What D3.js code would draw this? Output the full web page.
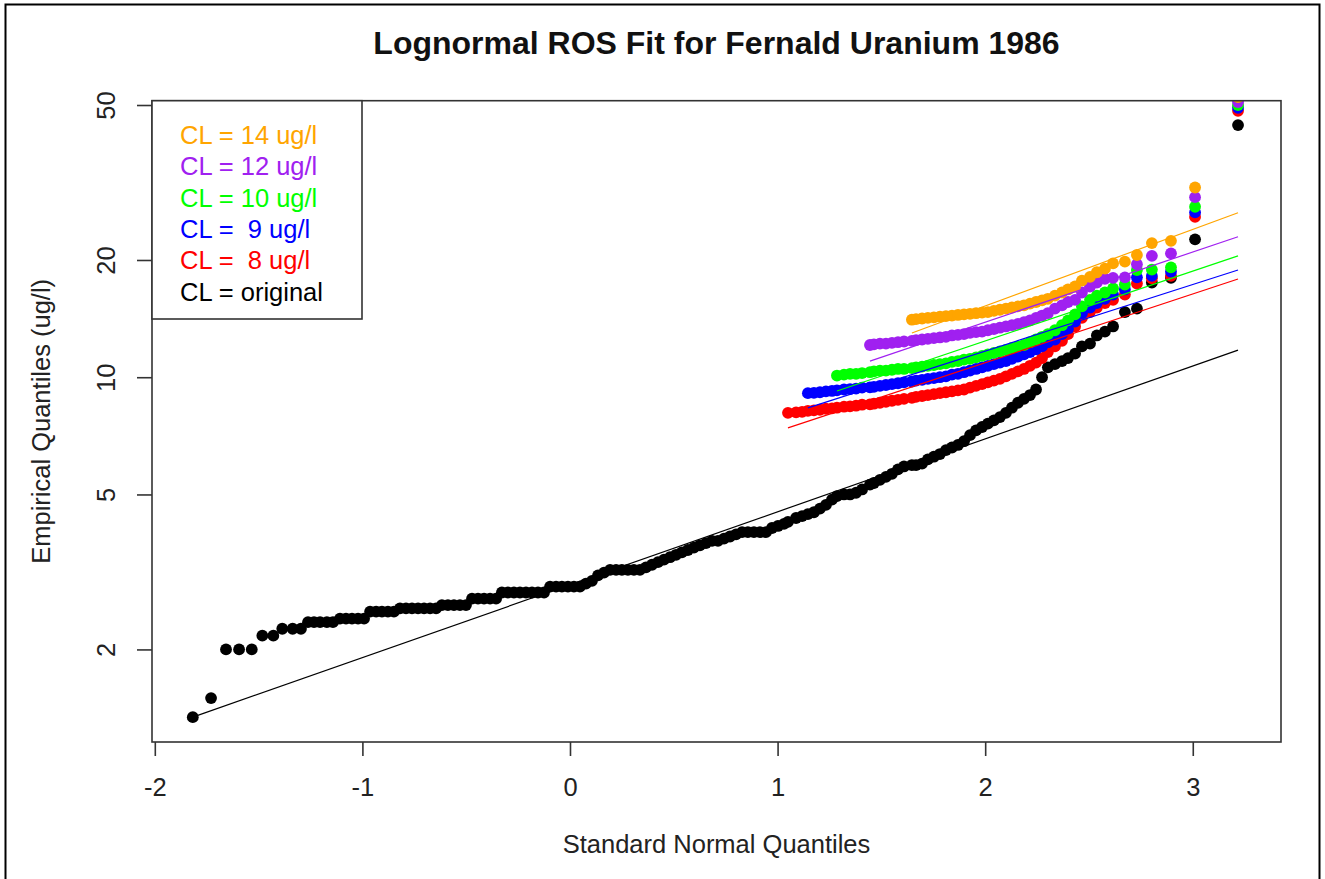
<!DOCTYPE html>
<html><head><meta charset="utf-8">
<script src="https://cdn.jsdelivr.net/npm/d3@7"></script>
<style>
body{margin:0;background:#fff}
svg text{font-family:"Liberation Sans",Arial,Helvetica,sans-serif}
</style>
</head><body>
<svg id="chart" width="1325" height="879"></svg>
<script>
// ---- data (standard normal quantiles shared by all series; CL series use the upper tail) ----
const quantiles = [
-1.817,-1.729,-1.657,-1.594,-1.533,-1.482,-1.429,-1.386,-1.336,-1.296,
-1.262,-1.233,-1.204,-1.171,-1.142,-1.108,-1.079,-1.050,-1.021,-0.992,
-0.963,-0.934,-0.906,-0.877,-0.848,-0.819,-0.790,-0.761,-0.732,-0.703,
-0.674,-0.645,-0.617,-0.588,-0.559,-0.530,-0.501,-0.472,-0.443,-0.414,
-0.385,-0.356,-0.328,-0.299,-0.270,-0.241,-0.212,-0.183,-0.154,-0.125,
-0.096,-0.067,-0.039,-0.010,0.019,0.048,0.077,0.106,0.135,0.164,
0.193,0.222,0.250,0.279,0.308,0.337,0.366,0.395,0.424,0.453,
0.482,0.511,0.539,0.568,0.597,0.626,0.655,0.684,0.713,0.742,
0.771,0.800,0.829,0.857,0.886,0.915,0.944,0.973,1.002,1.031,
1.050,1.089,1.118,1.146,1.175,1.204,1.233,1.262,1.286,1.320,
1.349,1.378,1.407,1.445,1.464,1.493,1.522,1.551,1.580,1.609,
1.647,1.667,1.696,1.724,1.753,1.782,1.811,1.840,1.869,1.898,
1.927,1.956,1.985,2.013,2.042,2.071,2.100,2.129,2.158,2.187,
2.216,2.245,2.274,2.302,2.336,2.370,2.399,2.433,2.466,2.505,
2.538,2.577,2.616,2.673,2.731,2.803,2.895,3.011,3.218];

const originalValues = [
1.34,1.50,2.0,2.0,2.0,2.17,2.17,2.26,2.26,2.26,
2.35,2.35,2.35,2.35,2.35,2.4,2.4,2.4,2.4,2.4,
2.5,2.5,2.5,2.5,2.5,2.55,2.55,2.55,2.55,2.55,
2.55,2.55,2.6,2.6,2.6,2.6,2.6,2.7,2.7,2.7,
2.7,2.7,2.8,2.8,2.8,2.8,2.8,2.8,2.8,2.8,
2.9,2.9,2.9,2.9,2.9,2.9,2.95,3.0,3.1,3.15,
3.2,3.2,3.2,3.2,3.2,3.2,3.25,3.3,3.35,3.4,
3.45,3.5,3.55,3.6,3.65,3.7,3.75,3.8,3.8,3.85,
3.9,3.95,4.0,4.0,4.0,4.0,4.0,4.1,4.15,4.2,
4.25,4.35,4.4,4.45,4.5,4.6,4.7,4.85,4.95,5.0,
5.0,5.05,5.15,5.3,5.35,5.45,5.55,5.65,5.8,5.9,
5.95,5.95,6.0,6.15,6.25,6.35,6.5,6.6,6.7,6.85,
7.1,7.3,7.45,7.6,7.75,7.9,8.1,8.35,8.6,8.8,
9.0,9.3,10.0,10.6,10.8,11.0,11.2,11.5,12.0,12.2,
12.8,13.1,13.5,14.7,15.0,17.5,18.0,22.6,44.4];

const cl8Values = [
8.1,8.12,8.15,8.2,8.22,8.25,8.3,8.32,8.35,8.4,
8.42,8.45,8.5,8.52,8.55,8.6,8.65,8.7,8.75,8.8,
8.85,8.9,8.95,9.0,9.05,9.1,9.15,9.2,9.25,9.3,
9.4,9.5,9.6,9.7,9.8,9.9,10.05,10.2,10.35,10.5,
10.7,10.9,11.2,11.6,12.0,12.4,12.9,13.5,14.2,14.7,
15.1,15.5,15.8,16.3,17.4,17.95,18.2,25.8,48.3];

const cl9Values = [
9.1,9.12,9.15,9.2,9.22,9.25,9.3,9.32,9.35,9.4,
9.42,9.45,9.5,9.55,9.6,9.65,9.7,9.75,9.8,9.85,
9.9,9.95,10.0,10.05,10.15,10.2,10.3,10.4,10.5,10.6,
10.7,10.8,10.9,11.0,11.15,11.3,11.45,11.6,11.8,12.0,
12.3,12.5,12.9,13.3,13.9,14.6,15.1,15.5,15.9,16.3,
16.8,18.05,18.2,18.66,26.5,49.2];

const cl10Values = [
10.1,10.15,10.2,10.2,10.25,10.3,10.35,10.4,10.4,10.45,
10.5,10.5,10.55,10.6,10.65,10.7,10.75,10.8,10.85,10.95,
11.0,11.1,11.15,11.25,11.35,11.45,11.55,11.65,11.75,11.9,
12.0,12.1,12.3,12.5,12.7,12.9,13.2,13.6,14.0,14.5,
15.2,15.8,16.2,16.5,16.9,17.3,18.85,18.9,19.15,27.4,
50.0];

const cl12Values = [
12.1,12.15,12.2,12.2,12.25,12.3,12.35,12.4,12.45,12.5,
12.55,12.6,12.65,12.7,12.8,12.85,12.9,13.0,13.05,13.1,
13.2,13.3,13.4,13.5,13.6,13.7,13.85,14.0,14.2,14.4,
14.6,15.0,15.3,15.6,15.8,16.5,17.1,17.5,17.9,18.0,
18.05,19.5,20.5,20.8,29.0,50.9];

const cl14Values = [
14.05,14.1,14.15,14.2,14.25,14.3,14.35,14.4,14.45,14.5,
14.55,14.6,14.65,14.7,14.8,14.9,15.0,15.1,15.2,15.3,
15.45,15.6,15.75,15.9,16.2,16.5,16.8,17.1,17.7,18.1,
18.6,19.0,19.6,19.8,20.6,22.1,22.4,30.7,52.4];

// fitted lognormal lines: value at first and last quantile of each series
const fitStart = [1.34, 7.41, 8.34, 9.22, 11.0, 12.99];
const fitEnd   = [11.74, 17.87, 18.85, 20.5, 22.95, 26.45];

const seriesLabels = ["CL = original","CL =  8 ug/l","CL =  9 ug/l","CL = 10 ug/l","CL = 12 ug/l","CL = 14 ug/l"];
const seriesColors = ["#000000","#FF0000","#0000FF","#00FF00","#A020F0","#FFA500"];
const xTicks = [-2,-1,0,1,2,3];
const yTicks = [2,5,10,20,50];

const titleText = "Lognormal ROS Fit for Fernald Uranium 1986";
const xLabel = "Standard Normal Quantiles";
const yLabel = "Empirical Quantiles (ug/l)";

// ---- layout ----
const svg = d3.select("#chart");
const plot = {left:152, right:1281, top:100.7, bottom:742};
const x = d3.scaleLinear().domain([-2.0135, 3.425]).range([plot.left, plot.right]);
const y = d3.scaleLog().domain([1.157, 51.29]).range([plot.bottom, plot.top]);
const FS = 25.5;

// outer frame
svg.append("rect").attr("x",5.5).attr("y",4.5).attr("width",1314).attr("height",900)
  .attr("fill","none").attr("stroke","#000").attr("stroke-width",2);

svg.append("defs").append("clipPath").attr("id","clip")
  .append("rect").attr("x",plot.left).attr("y",plot.top)
  .attr("width",plot.right-plot.left).attr("height",plot.bottom-plot.top);

const allSeries = [originalValues, cl8Values, cl9Values, cl10Values, cl12Values, cl14Values];
const series = allSeries.map((vals,i)=>{
  const qs = quantiles.slice(quantiles.length - vals.length);
  return {color:seriesColors[i], pts: vals.map((v,j)=>({q:qs[j], v})),
          line:[{q:qs[0], v:fitStart[i]},{q:qs[qs.length-1], v:fitEnd[i]}]};
});

const gPts = svg.append("g").attr("clip-path","url(#clip)");
series.forEach(s=>{
  gPts.append("g").selectAll("circle").data(s.pts).join("circle")
    .attr("cx",d=>x(d.q)).attr("cy",d=>y(d.v)).attr("r",5.9).attr("fill",s.color);
});
const line = d3.line().x(d=>x(d.q)).y(d=>y(d.v));
series.forEach(s=>{
  gPts.append("path").attr("d",line(s.line)).attr("fill","none")
    .attr("stroke",s.color).attr("stroke-width",1.2);
});

// box
svg.append("rect").attr("x",plot.left).attr("y",plot.top)
  .attr("width",plot.right-plot.left).attr("height",plot.bottom-plot.top)
  .attr("fill","none").attr("stroke","#333").attr("stroke-width",1.6);

// x axis
const xAxis = d3.axisBottom(x).tickValues(xTicks).tickSize(14).tickPadding(22)
  .tickFormat(d=> d<0 ? "-"+Math.abs(d) : String(d));
const gx = svg.append("g").attr("transform",`translate(0,${plot.bottom})`).call(xAxis);
gx.select(".domain").remove();
gx.selectAll(".tick line").attr("stroke","#333").attr("stroke-width",1.6);
gx.selectAll("text").attr("font-size",FS).attr("fill","#222")
  .style("font-family","'Liberation Sans',Arial,sans-serif");

// y axis
const yAxis = d3.axisLeft(y).tickValues(yTicks).tickSize(15).tickFormat(d=>String(d));
const gy = svg.append("g").attr("transform",`translate(${plot.left},0)`).call(yAxis);
gy.select(".domain").remove();
gy.selectAll(".tick line").attr("stroke","#333").attr("stroke-width",1.6);
gy.selectAll(".tick text").attr("x",null).attr("dy",null).attr("text-anchor","middle")
  .attr("transform","translate(-37,0) rotate(-90)")
  .attr("font-size",FS).attr("fill","#222")
  .style("font-family","'Liberation Sans',Arial,sans-serif");

// title & labels
svg.append("text").attr("x",(plot.left+plot.right)/2).attr("y",54)
  .attr("text-anchor","middle").attr("font-size",32).attr("font-weight","bold")
  .attr("fill","#111").text(titleText);
svg.append("text").attr("x",(plot.left+plot.right)/2).attr("y",853)
  .attr("text-anchor","middle").attr("font-size",FS).attr("fill","#222").text(xLabel);
svg.append("text").attr("transform",`translate(50,${(plot.top+plot.bottom)/2}) rotate(-90)`)
  .attr("text-anchor","middle").attr("font-size",FS).attr("fill","#222").text(yLabel);

// legend
const legOrder = [5,4,3,2,1,0];
svg.append("rect").attr("x",plot.left).attr("y",plot.top).attr("width",210).attr("height",218.3)
  .attr("fill","#fff").attr("stroke","#333").attr("stroke-width",1.6);
legOrder.forEach((k,i)=>{
  svg.append("text").attr("x",180).attr("y",144+i*31.3)
    .attr("font-size",FS).attr("fill",seriesColors[k]).style("white-space","pre")
    .text(seriesLabels[k]);
});
</script>
</body></html>
